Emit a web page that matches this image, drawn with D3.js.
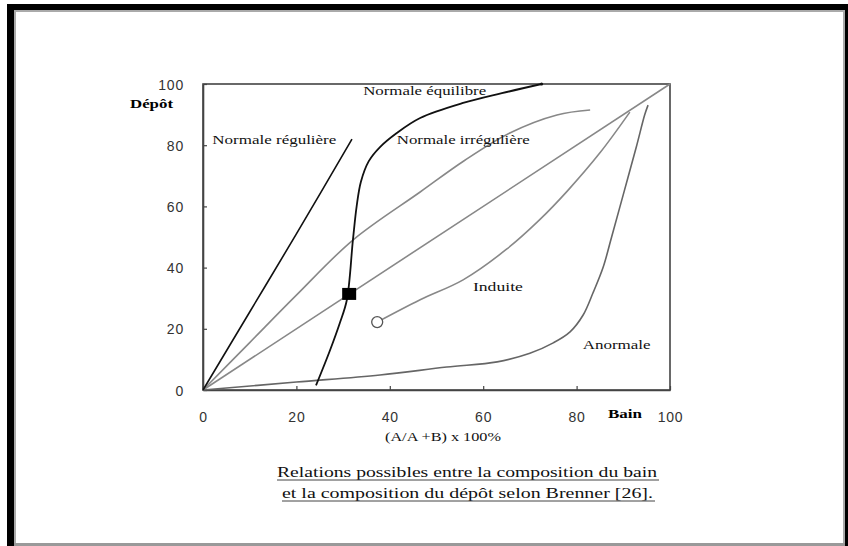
<!DOCTYPE html>
<html>
<head>
<meta charset="utf-8">
<script src="https://d3js.org/d3.v7.min.js"></script>
<style>
  body { margin: 0; background: #fff; }
  svg { display: block; }
</style>
</head>
<body>
<div id="graph"></div>
<script>

    // curves: x = (A/A+B) x 100%, y = dépôt
    var regX = [0, 10, 20, 31.9];
    var regY = [0, 25.5, 51, 82];

    var equX = [24.2, 27.2, 29.3, 30.8, 32.1, 32.9, 33.8, 35.5, 37.9, 41.5, 46.5, 55.7, 64, 72.5];
    var equY = [1.5, 13, 21.9, 29.4, 49, 60, 68, 74.8, 79.4, 84, 88.9, 93.8, 97, 100];

    var irrX = [0, 10, 20, 32.1, 46.5, 56, 65.7, 75.8, 82.9];
    var irrY = [0, 15.5, 31, 49, 64.7, 75, 84, 89.9, 91.5];

    var diagX = [0, 100];
    var diagY = [0, 100];

    var indX = [37.3, 46.5, 55.7, 65, 72, 78, 85, 91.4];
    var indY = [22.2, 29.5, 36, 46, 55.5, 65, 77.5, 90.8];

    var anoX = [0, 20, 37.9, 52.2, 63, 70, 75, 78.6, 81.4, 83.5, 85.7, 87.5, 90.2, 92.8, 94.6, 95.3];
    var anoY = [0, 2.6, 4.9, 7.5, 9.2, 12, 15.4, 19, 24.5, 31.7, 40.2, 50, 65, 79.5, 90, 93.1];

    // the two markers
    var squarePt = [31.3, 31.4];
    var circlePt = [37.3, 22.2];

    var ticks = [0, 20, 40, 60, 80, 100];

    var labels = [
        { t: "Normale régulière", x: 2, y: 80.5, w: 124 },
        { t: "Normale équilibre", x: 34.3, y: 96.5, w: 123 },
        { t: "Normale irrégulière", x: 41.5, y: 80.5, w: 133 },
        { t: "Induite", x: 57.8, y: 32.5, w: 50 },
        { t: "Anormale", x: 81.3, y: 13.3, w: 68 }
    ];

    var W = 848, H = 546;

    var svg = d3.select("#graph")
        .append("svg")
        .attr("width", W)
        .attr("height", H);

    // page frame: thick black left/top/right, thin grey bottom
    svg.append("rect").attr("x", 0).attr("y", 0).attr("width", W).attr("height", H).attr("fill", "#fff");
    svg.append("rect").attr("x", 7).attr("y", 4).attr("width", 841).attr("height", 6).attr("fill", "#000");
    svg.append("rect").attr("x", 7).attr("y", 4).attr("width", 7).attr("height", 542).attr("fill", "#000");
    svg.append("rect").attr("x", 845).attr("y", 4).attr("width", 3).attr("height", 542).attr("fill", "#000");
    svg.append("rect").attr("x", 14).attr("y", 10).attr("width", 2).attr("height", 536).attr("fill", "#aaa");
    svg.append("rect").attr("x", 14).attr("y", 10).attr("width", 831).attr("height", 2).attr("fill", "#aaa");
    svg.append("rect").attr("x", 843).attr("y", 10).attr("width", 2).attr("height", 536).attr("fill", "#aaa");
    svg.append("rect").attr("x", 14).attr("y", 543).attr("width", 831).attr("height", 3).attr("fill", "#999");

    var x = d3.scaleLinear().domain([0, 100]).range([203, 670]);
    var y = d3.scaleLinear().domain([0, 100]).range([390, 84]);

    var g = svg.append("g");

    // plot box
    g.append("rect")
        .attr("x", x(0)).attr("y", y(100))
        .attr("width", x(100) - x(0)).attr("height", y(0) - y(100))
        .attr("fill", "none").attr("stroke", "#444").attr("stroke-width", 1.6);

    var xAxis = g.append("g")
        .attr("transform", "translate(0," + y(0) + ")")
        .call(d3.axisBottom(x).tickValues(ticks).tickSizeInner(-4).tickSizeOuter(0).tickPadding(22));
    var yAxis = g.append("g")
        .attr("transform", "translate(" + x(0) + ",0)")
        .call(d3.axisLeft(y).tickValues(ticks).tickSizeInner(-4).tickSizeOuter(0).tickPadding(19));

    [xAxis, yAxis].forEach(function (a) {
        a.select(".domain").attr("stroke", "#444").attr("stroke-width", 1.6);
        a.selectAll(".tick line").attr("stroke", "#444").attr("stroke-width", 1.2);
        a.selectAll(".tick text")
            .attr("fill", "#333")
            .style("font-family", "'Liberation Sans', Arial, sans-serif")
            .style("font-size", "14px")
            .style("letter-spacing", "0.8px");
    });
    yAxis.selectAll(".tick text").attr("dy", "0.36em");

    var line = d3.line()
        .x(function (d) { return x(d[0]); })
        .y(function (d) { return y(d[1]); })
        .curve(d3.curveCatmullRom.alpha(0.5));

    function pts(xs, ys) { return xs.map(function (v, i) { return [v, ys[i]]; }); }

    var series = [
        { d: pts(diagX, diagY), c: "#888", w: 1.6 },
        { d: pts(irrX, irrY), c: "#888", w: 1.6 },
        { d: pts(indX, indY), c: "#888", w: 1.6 },
        { d: pts(anoX, anoY), c: "#666", w: 1.6 },
        { d: pts(regX, regY), c: "#111", w: 1.6 },
        { d: pts(equX, equY), c: "#111", w: 1.8 }
    ];

    g.selectAll("path.curve")
        .data(series)
        .enter()
        .append("path")
        .attr("class", "curve")
        .attr("d", function (s) { return line(s.d); })
        .attr("fill", "none")
        .attr("stroke", function (s) { return s.c; })
        .attr("stroke-width", function (s) { return s.w; });

    // tiny mark at the top end of "Normale équilibre"
    g.append("circle")
        .attr("cx", x(equX[equX.length - 1])).attr("cy", y(equY[equY.length - 1]))
        .attr("r", 1.6).attr("fill", "#111");

    g.append("rect")
        .attr("x", x(squarePt[0]) - 7).attr("y", y(squarePt[1]) - 6)
        .attr("width", 14).attr("height", 12)
        .attr("fill", "#000");

    g.append("circle")
        .attr("cx", x(circlePt[0])).attr("cy", y(circlePt[1]))
        .attr("r", 5.5)
        .attr("fill", "#fff").attr("stroke", "#555").attr("stroke-width", 1.3);

    var serif = "'Liberation Serif', 'Times New Roman', serif";

    g.selectAll("text.lab")
        .data(labels)
        .enter()
        .append("text")
        .attr("class", "lab")
        .attr("x", function (d) { return x(d.x); })
        .attr("y", function (d) { return y(d.y); })
        .attr("textLength", function (d) { return d.w; })
        .attr("lengthAdjust", "spacingAndGlyphs")
        .style("font-family", serif)
        .style("font-size", "13px")
        .attr("fill", "#111")
        .text(function (d) { return d.t; });

    // axis titles
    svg.append("text")
        .attr("x", 130).attr("y", 108)
        .attr("textLength", 43).attr("lengthAdjust", "spacingAndGlyphs")
        .style("font-family", serif).style("font-size", "12px").style("font-weight", "bold")
        .text("Dépôt");
    svg.append("text")
        .attr("x", 608).attr("y", 418)
        .attr("textLength", 34).attr("lengthAdjust", "spacingAndGlyphs")
        .style("font-family", serif).style("font-size", "12px").style("font-weight", "bold")
        .text("Bain");
    svg.append("text")
        .attr("x", 385).attr("y", 441)
        .attr("textLength", 116).attr("lengthAdjust", "spacingAndGlyphs")
        .style("font-family", serif).style("font-size", "11.5px")
        .attr("fill", "#111")
        .text("(A/A +B) x 100%");

    // caption
    var caption = [
        { t: "Relations possibles entre la composition du bain", x0: 277, x1: 657, y: 477 },
        { t: "et la composition du dépôt selon Brenner [26].", x0: 282, x1: 653, y: 498 }
    ];
    caption.forEach(function (c) {
        svg.append("text")
            .attr("x", c.x0).attr("y", c.y)
            .attr("textLength", c.x1 - c.x0).attr("lengthAdjust", "spacingAndGlyphs")
            .style("font-family", serif).style("font-size", "15px")
            .attr("fill", "#111")
            .text(c.t);
        svg.append("line")
            .attr("x1", c.x0).attr("x2", c.x1 + 2)
            .attr("y1", c.y + 3).attr("y2", c.y + 3)
            .attr("stroke", "#444").attr("stroke-width", 1);
    });

</script>
</body>
</html>
